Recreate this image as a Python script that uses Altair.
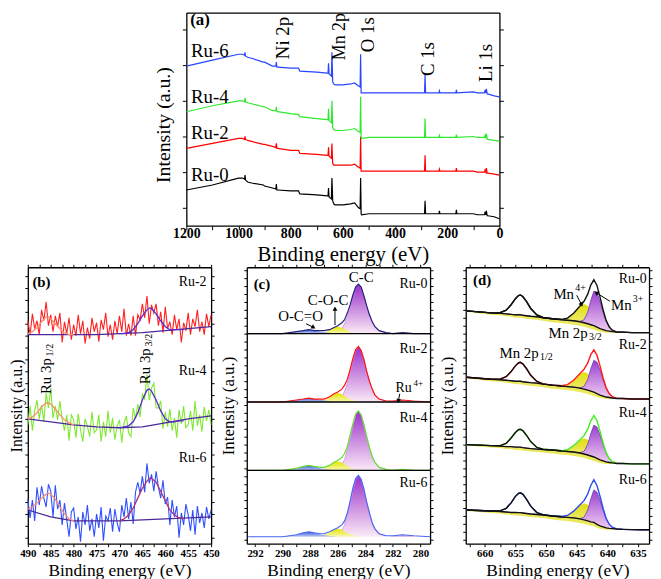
import altair as alt
import pandas as pd

SERIF = "Liberation Serif"

# ===================== (a) XPS survey spectra =====================
a_energy = [1200, 1100, 1000, 985, 977, 975, 973, 965, 950, 905,
            900, 870, 857, 855, 853, 850, 800, 770, 765, 700,
            660, 657, 655, 653, 648, 644, 642, 639, 635, 630,
            600, 570, 555, 540, 534, 532, 530, 528, 500, 400,
            290, 287, 285, 283, 280, 232, 230, 228, 200, 167,
            165, 163, 100, 85, 57, 55, 52, 50, 47, 45,
            20, 0]
a_ru0 = [36, 41, 48, 48, 47, 51, 46, 44, 43, 41,
         40, 38, 37, 42, 36, 36, 35, 35, 32, 31,
         30, 30, 38, 29, 28, 27, 48, 25, 22, 21,
         21, 22, 23, 18, 17, 48, 12, 11, 12, 12,
         12, 12, 25, 12, 12, 12, 15, 12, 12, 12,
         16, 12, 12, 11, 11, 14, 11, 15, 10, 10,
         9, 7]
a_ru2 = [78, 83, 88, 88, 87, 90, 87, 86, 85, 82,
         82, 80, 79, 83, 78, 78, 76, 76, 73, 72,
         71, 71, 79, 70, 69, 68, 83, 63, 61, 61,
         61, 61, 62, 59, 58, 90, 55, 55, 55, 55,
         55, 55, 71, 55, 55, 55, 57, 55, 55, 55,
         58, 55, 55, 54, 54, 56, 54, 58, 53, 53,
         52, 51]
a_ru4 = [115, 121, 126, 126, 125, 129, 125, 124, 123, 120,
         120, 116, 116, 120, 115, 115, 113, 112, 110, 108,
         107, 107, 118, 106, 105, 104, 126, 99, 97, 96,
         96, 97, 98, 95, 94, 130, 89, 88, 89, 89,
         89, 89, 108, 89, 89, 89, 91, 89, 89, 89,
         92, 89, 90, 89, 89, 91, 89, 93, 88, 87,
         86, 85]
a_ru6 = [161, 167, 173, 173, 172, 175, 171, 170, 169, 165,
         165, 161, 161, 165, 160, 160, 159, 159, 156, 155,
         154, 154, 164, 153, 152, 151, 175, 145, 143, 142,
         142, 143, 144, 141, 140, 173, 134, 134, 134, 134,
         134, 134, 152, 134, 134, 134, 136, 134, 134, 134,
         137, 134, 135, 134, 134, 137, 134, 138, 133, 133,
         131, 130]
a_name_text = ["Ru-6", "Ru-4", "Ru-2", "Ru-0"]
a_name_x = [1182, 1182, 1182, 1182]
a_name_y = [176, 130, 93, 51]
a_peak_text = ["Ni 2p", "O 1s", "C 1s", "Li 1s"]
a_peak_x = [828, 505, 273, 53]
a_peak_y = [168, 175, 151, 145]
a_mn_text = ["Mn 2p"]
a_mn_x = [612]
a_mn_y = [167]
a_tick_y = [18, 54, 90, 126, 162, 198]

# ===================== (b) Ru 3p =====================
b_energy = [490 - 0.5 * i for i in range(81)]
b_ru2 = [225, 211, 232, 217, 225, 211, 236, 225, 244, 220,
         231, 214, 230, 219, 233, 203, 224, 212, 228, 206,
         221, 210, 231, 212, 225, 202, 218, 207, 228, 214,
         223, 204, 226, 216, 233, 209, 221, 206, 225, 212,
         230, 214, 237, 210, 222, 210, 230, 210, 231, 226,
         242, 228, 250, 222, 241, 233, 242, 220, 234, 213,
         239, 217, 224, 211, 231, 216, 227, 203, 223, 215,
         233, 211, 227, 219, 236, 214, 224, 211, 232, 219,
         231]
b_ru4 = [120, 139, 114, 134, 145, 126, 140, 123, 152, 137,
         157, 127, 139, 125, 144, 126, 114, 130, 104, 130,
         125, 107, 131, 115, 103, 126, 119, 108, 133, 112,
         115, 130, 103, 123, 108, 134, 112, 127, 105, 119,
         125, 102, 122, 129, 112, 108, 137, 126, 141, 128,
         151, 146, 171, 145, 157, 162, 137, 137, 144, 116,
         133, 118, 136, 114, 127, 107, 135, 121, 139, 117,
         120, 134, 114, 144, 119, 130, 113, 138, 124, 135,
         120]
b_ru6 = [45, 26, 44, 23, 57, 39, 58, 46, 37, 60,
         53, 27, 59, 35, 44, 19, 41, 24, 7, 32,
         36, 15, 27, 2, 32, 19, 39, 13, 25, 7,
         30, 16, 37, 3, 28, 23, 36, 12, 35, 21,
         12, 39, 27, 46, 25, 42, 20, 52, 62, 51,
         68, 52, 81, 61, 70, 53, 73, 57, 46, 64,
         40, 47, 19, 44, 27, 38, 6, 31, 19, 40,
         29, 13, 34, 9, 38, 21, 31, 16, 37, 25,
         34]
b_p12_e = [490, 489, 488, 487, 486, 485.5, 485, 484, 483, 482, 481, 480]
b_p12_ru2 = [212, 214, 218, 224, 229, 229, 227, 222, 217, 213, 211, 211]
b_p12_ru4 = [126, 128, 132, 138, 142, 142, 141, 136, 130, 125, 122, 120]
b_p12_ru6 = [35, 37, 41, 46, 50, 51, 50, 45, 37, 30, 25, 23]
b_p32_e = [470, 469, 468, 467, 466, 465, 464, 463.5, 463, 462, 461, 460, 459, 458, 457, 456]
b_p32_ru2 = [212, 212, 213, 216, 222, 230, 236, 238, 237, 232, 225, 219, 216, 216, 216, 216]
b_p32_ru4 = [117, 118, 119, 123, 132, 145, 155, 156, 154, 145, 134, 126, 123, 123, 124, 124]
b_p32_ru6 = [23, 25, 29, 36, 46, 56, 63, 66, 66, 62, 53, 43, 34, 29, 26, 25]
b_bg_e = [490, 485, 480, 475, 470, 465, 460, 455, 450]
b_bg_ru2 = [211, 211, 211, 211, 212, 213, 215, 217, 219]
b_bg_ru4 = [126, 123, 120, 118, 117, 118, 122, 126, 129]
b_bg_ru6 = [34, 27, 23, 23, 23, 24, 25, 26, 27]
b_name_text = ["Ru-2", "Ru-4", "Ru-6"]
b_name_y = [264, 174, 86]

# ===================== (c) C 1s =====================
c_base = [212, 143, 74, 7]
c_cc_e = [286.5, 286, 285.7, 285.5, 285.3, 285.1, 284.9, 284.7, 284.5, 284.3,
          284.1, 283.9, 283.7, 283.5, 283.3, 283, 282.5]
c_cc = [[212, 213, 217, 222, 229, 240, 250, 259, 262, 259, 250, 240, 231, 224, 219, 215, 213],
        [143, 144, 148, 154, 162, 174, 186, 195, 199, 195, 186, 174, 164, 156, 150, 146, 144],
        [74, 75, 80, 85, 95, 107, 120, 130, 134, 130, 120, 108, 97, 88, 82, 77, 75],
        [7, 8, 13, 19, 29, 41, 55, 65, 69, 65, 55, 42, 31, 21, 15, 10, 8]]
c_coc_e = [287.5, 287, 286.6, 286.3, 286, 285.7, 285.4, 285, 284.5]
c_coc = [[212, 213, 216, 218, 219, 218, 216, 213, 212],
         [143, 145, 148, 151, 152, 151, 148, 145, 143],
         [74, 76, 79, 82, 83, 82, 79, 76, 74],
         [7, 9, 11, 14, 15, 14, 11, 9, 7]]
c_oco_e = [290, 289.5, 289, 288.5, 288.1, 287.7, 287.2, 286.7, 286.2]
c_oco = [[212, 213, 214, 215, 216, 215, 214, 213, 212],
         [143, 144, 145, 146, 147, 146, 145, 144, 143],
         [74, 75, 76, 78, 79, 78, 76, 75, 74],
         [7, 8, 9, 11, 12, 11, 9, 8, 7]]
c_r4_e = [282.3, 281.8, 281.3, 280.8, 280.3]
c_r4 = [[212, 213, 213, 213, 212],
        [143, 144, 145, 144, 143],
        [74, 75, 75, 75, 74],
        [7, 8, 9, 8, 7]]
c_env_e = [292.5, 291, 290, 289.5, 289, 288.5, 288.1, 287.7, 287.2, 287,
           286.6, 286.3, 286, 285.7, 285.5, 285.3, 285.1, 284.9, 284.7, 284.5,
           284.3, 284.1, 283.9, 283.7, 283.5, 283.3, 283, 282.5, 282, 281.3,
           280.5, 279.3]
c_env = [[212, 212, 212, 213, 214, 215, 216, 215, 215, 215, 216, 218, 220, 223, 226, 233,
          241, 251, 259, 262, 259, 250, 240, 231, 224, 219, 215, 213, 212, 213, 212, 212],
         [143, 143, 143, 144, 145, 146, 147, 146, 146, 146, 148, 151, 153, 156, 160, 166,
          176, 187, 196, 199, 195, 186, 174, 164, 156, 150, 146, 144, 144, 145, 144, 143],
         [74, 74, 74, 75, 76, 78, 79, 78, 77, 77, 79, 82, 84, 87, 91, 98,
          110, 121, 131, 134, 130, 120, 108, 97, 88, 82, 77, 75, 74, 75, 74, 74],
         [7, 7, 7, 8, 9, 11, 12, 11, 10, 10, 12, 14, 16, 19, 23, 31,
          43, 56, 66, 69, 65, 55, 42, 31, 21, 15, 10, 8, 8, 9, 8, 7]]
c_name_text = ["Ru-0", "Ru-2", "Ru-4", "Ru-6"]
c_name_y = [262, 196, 127, 61]
c_peak_text = ["C-C", "C-O-C", "O-C=O"]
c_peak_x = [284.3, 286.7, 288.7]
c_peak_y = [269, 246, 230]

# ===================== (d) Mn 2p =====================
d_energy = [663, 661, 659, 657.5, 656.5, 655.7, 655, 654.5, 654.2, 653.8,
            653.2, 652.5, 651.5, 650.5, 649, 647.5, 646.5, 645.5, 644.5, 643.8,
            643.2, 642.7, 642.2, 641.7, 641.2, 640.7, 640.2, 639.7, 639.2, 638.5,
            637.5, 636, 634.5, 633.2]
d_bg = [[235, 234, 233, 232.5, 232, 231.5, 231, 231, 231, 230.5,
         230, 229.5, 229, 228, 227, 226, 225.5, 225, 224, 223,
         222, 221, 220, 218.5, 217, 216, 215, 214.5, 214, 213.5,
         213.5, 213, 213, 213],
        [168, 167, 166, 165.5, 165, 164.5, 164, 164, 164, 163.5,
         163, 162.5, 162, 161, 160, 159, 158.5, 158, 157, 156,
         155, 154, 153, 151.5, 150, 149, 148, 147.5, 147, 146.5,
         146.5, 146, 146, 146],
        [100, 99.5, 99, 98.5, 98, 98, 97.5, 97.5, 97.5, 97,
         96.5, 96, 95.5, 95, 94.5, 93.5, 93, 92.5, 91.5, 90.5,
         89.5, 88.5, 87.5, 86, 84.5, 83.5, 82.5, 82, 81.5, 81,
         81, 80.5, 80.5, 80.5],
        [34, 33.5, 33, 32.5, 32, 31.5, 31.5, 31.3, 31.3, 31,
         30.5, 30, 29.5, 29, 28, 27, 26.5, 26, 25, 24,
         23, 22, 21.5, 19.5, 18, 17, 16, 15.5, 15.2, 14.8,
         14.5, 14.2, 14, 14]]
d_p12 = [[0, 0, 0, 0.6, 3.7, 9.7, 16.3, 19.4, 20, 19, 14.5, 7.9, 1.9, 0.3, 0, 0, 0,
          0, 0, 0, 0, 0, 0, 0, 0, 0, 0, 0, 0, 0, 0, 0, 0, 0],
         [0, 0, 0, 0.6, 3.5, 9.2, 15.5, 18.4, 19, 18, 13.8, 7.5, 1.8, 0.3, 0, 0, 0,
          0, 0, 0, 0, 0, 0, 0, 0, 0, 0, 0, 0, 0, 0, 0, 0, 0],
         [0, 0, 0, 0.5, 3.3, 8.7, 14.7, 17.5, 18, 17.1, 13, 7.1, 1.7, 0.3, 0, 0, 0,
          0, 0, 0, 0, 0, 0, 0, 0, 0, 0, 0, 0, 0, 0, 0, 0, 0],
         [0, 0, 0, 0.6, 3.7, 9.7, 16.3, 19.4, 20, 19, 14.5, 7.9, 1.9, 0.3, 0, 0, 0,
          0, 0, 0, 0, 0, 0, 0, 0, 0, 0, 0, 0, 0, 0, 0, 0, 0]]
d_mn4 = [[0, 0, 0, 0, 0, 0, 0, 0, 0, 0, 0, 0, 0, 0,
          0, 0.4, 2.2, 7.6, 15.4, 18.8, 18.2, 15.4, 11.5, 7.6, 4.4, 2.2, 1.0, 0.4, 0.1,
          0, 0, 0, 0, 0],
         [0, 0, 0, 0, 0, 0, 0, 0, 0, 0, 0, 0, 0, 0,
          0, 0.4, 2.0, 7.0, 14.2, 17.3, 16.7, 14.2, 10.6, 7.0, 4.0, 2.0, 0.9, 0.4, 0.1,
          0, 0, 0, 0, 0],
         [0, 0, 0, 0, 0, 0, 0, 0, 0, 0, 0, 0, 0, 0,
          0, 0.3, 1.8, 6.4, 12.9, 15.8, 15.3, 12.9, 9.7, 6.4, 3.7, 1.8, 0.8, 0.3, 0.1,
          0, 0, 0, 0, 0],
         [0, 0, 0, 0, 0, 0, 0, 0, 0, 0, 0, 0, 0, 0,
          0, 0.4, 2.0, 6.8, 13.7, 16.7, 16.2, 13.7, 10.2, 6.8, 3.9, 2.0, 0.9, 0.4, 0.1,
          0, 0, 0, 0, 0]]
d_mn3 = [[0, 0, 0, 0, 0, 0, 0, 0, 0, 0, 0, 0, 0, 0, 0, 0, 0, 0,
          0.3, 2.9, 11.7, 24.6, 34.9, 34.6, 27.7, 17.9, 9.4, 4.0, 1.4, 0.2,
          0, 0, 0, 0],
         [0, 0, 0, 0, 0, 0, 0, 0, 0, 0, 0, 0, 0, 0, 0, 0, 0, 0,
          0.3, 2.7, 10.8, 22.6, 32.1, 31.8, 25.5, 16.5, 8.6, 3.7, 1.3, 0.2,
          0, 0, 0, 0],
         [0, 0, 0, 0, 0, 0, 0, 0, 0, 0, 0, 0, 0, 0, 0, 0, 0, 0,
          0.3, 2.7, 10.8, 22.6, 32.1, 31.8, 25.5, 16.5, 8.6, 3.7, 1.3, 0.2,
          0, 0, 0, 0],
         [0, 0, 0, 0, 0, 0, 0, 0, 0, 0, 0, 0, 0, 0, 0, 0, 0, 0,
          0.3, 2.7, 11.0, 23.1, 32.8, 32.5, 26.0, 16.8, 8.8, 3.8, 1.3, 0.2,
          0, 0, 0, 0]]
d_yband = [1, 1.5, 2, 2, 2.5, 2.5, 3, 3, 3, 3, 3, 3, 3, 3, 3.5, 3.5, 3.5, 4, 4, 4,
           4, 4, 4, 3.5, 3, 2.5, 2, 1.5, 1, 0.5, 0, 0, 0, 0]
d_name_text = ["Ru-0", "Ru-2", "Ru-4", "Ru-6"]
d_name_y = [267, 201, 132, 64]

# ===================== helpers =====================
def vgrad(top, bottom):
    return alt.Gradient(gradient="linear",
                        stops=[alt.GradientStop(color=top, offset=0),
                               alt.GradientStop(color=bottom, offset=1)],
                        x1=0, x2=0, y1=0, y2=1)


def frame_df(x, y, y2=None):
    d = {"x": list(x), "y": list(y)}
    if y2 is not None:
        d["y2"] = list(y2)
    return pd.DataFrame(d)


class Panel:
    def __init__(self, xdom, ydom, xrange=None):
        if xrange is None:
            self.xs = alt.Scale(domain=xdom, nice=False, zero=False)
        else:
            self.xs = alt.Scale(domain=xdom, range=xrange, nice=False, zero=False)
        self.ys = alt.Scale(domain=ydom, nice=False, zero=False)
        self.mid = ((xdom[0] + xdom[1]) / 2.0, (ydom[0] + ydom[1]) / 2.0)
        self.layers = []

    def X(self, field="x", axis=None):
        return alt.X(f"{field}:Q", scale=self.xs, axis=axis)

    def Y(self, field="y", axis=None):
        return alt.Y(f"{field}:Q", scale=self.ys, axis=axis)

    def line(self, x, y, color, width=1.2, opacity=1.0):
        self.layers.append(alt.Chart(frame_df(x, y)).mark_line(
            color=color, strokeWidth=width, opacity=opacity).encode(x=self.X(), y=self.Y()))

    def area(self, x, y, y2, fill, opacity=1.0):
        self.layers.append(alt.Chart(frame_df(x, y, y2)).mark_area(
            color=fill, opacity=opacity).encode(x=self.X(), y=self.Y(), y2="y2:Q"))

    def text(self, x, y, t, **kw):
        df = pd.DataFrame({"x": list(x), "y": list(y), "t": list(t)})
        self.layers.append(alt.Chart(df).mark_text(font=SERIF, color="black", **kw).encode(
            x=self.X(), y=self.Y(), text="t:N"))

    def hrule(self, ys, width=1.3):
        df = pd.DataFrame({"y": list(ys)})
        self.layers.append(alt.Chart(df).mark_rule(color="black", strokeWidth=width).encode(y=self.Y()))

    def arrow(self, x1, y1, x2, y2, angle):
        df = pd.DataFrame({"x": [x1], "y": [y1], "x2": [x2], "y2": [y2]})
        self.layers.append(alt.Chart(df).mark_rule(color="black", strokeWidth=1).encode(
            x=self.X(), y=self.Y(), x2="x2:Q", y2="y2:Q"))
        self.layers.append(alt.Chart(df).mark_point(
            shape="triangle-up", filled=True, color="black", opacity=1, size=24, angle=angle).encode(
            x=self.X("x2"), y=self.Y("y2")))

    def build(self, width, height, bottom, left, top, right):
        df = pd.DataFrame({"x": [self.mid[0]], "y": [self.mid[1]]})
        ax = alt.Chart(df).mark_point(opacity=0, size=1).encode(
            x=self.X(axis=bottom), y=self.Y(axis=left))
        fr = alt.Chart(df).mark_point(opacity=0, size=1).encode(
            x=self.X(axis=top), y=self.Y(axis=right))
        return alt.layer(ax, fr, *self.layers).resolve_axis(
            x="independent", y="independent").properties(width=width, height=height)


def x_bottom(values, expr, lsize, tsize, tick, lpad, tpad):
    return alt.Axis(orient="bottom", values=values, labelExpr=expr, format="d",
                    tickSize=tick, labelFont=SERIF, labelFontSize=lsize, labelFontWeight="bold",
                    labelPadding=lpad, labelFlush=False, labelOverlap=False,
                    title="Binding energy (eV)", titleFont=SERIF, titleFontSize=tsize,
                    titleFontWeight="normal", titlePadding=tpad)


def y_left(values, tsize, tick, tpad, **kw):
    return alt.Axis(orient="left", values=values, labels=False, tickSize=tick,
                    title="Intensity (a.u.)", titleFont=SERIF, titleFontSize=tsize,
                    titleFontWeight="normal", titlePadding=tpad, **kw)


def y_right(values, tick):
    return alt.Axis(orient="right", values=values, labels=False, tickSize=tick, title=None)


def x_top(values, tick):
    return alt.Axis(orient="top", values=values, labels=False, tickSize=tick, title=None)


# ===================== panel (a) =====================
pa = Panel([1200, 0], [0, 215], xrange=[160, 476])
for ys, col in [(a_ru0, "#000000"), (a_ru2, "#ff0000"), (a_ru4, "#2ee82e"), (a_ru6, "#2846ff")]:
    pa.line(a_energy, ys, col, width=1.2)
pa.text(a_name_x, a_name_y, a_name_text, align="left", baseline="middle", fontSize=19)
pa.text([1185], [208], ["(a)"], align="left", baseline="middle", fontSize=17, fontWeight="bold")
pa.text(a_peak_x, a_peak_y, a_peak_text, align="left", baseline="middle", fontSize=19,
        angle=270, clip=True)
pa.text(a_mn_x, a_mn_y, a_mn_text, align="left", baseline="middle", fontSize=18,
        angle=270, clip=True)
chart_a = pa.build(
    476, 215,
    x_bottom(list(range(0, 1201, 100)), "datum.value % 200 == 0 ? datum.label : ''", 14, 21, 4, -3, 3),
    y_left(a_tick_y, 20, 4, 8, offset=-160, titleY=113),
    alt.Axis(orient="top", ticks=False, labels=False, title=None),
    y_right(a_tick_y, 4))

# ===================== panel (b) =====================
b_xvals = [450 + 2.5 * k for k in range(17)]
b_yvals = [6 + 12 * k for k in range(23)]
pb = Panel([490, 450], [0, 279])
for data, bg, p12, p32, col, c32 in [
        (b_ru2, b_bg_ru2, b_p12_ru2, b_p32_ru2, "#ff2020", "#5a2ad0"),
        (b_ru4, b_bg_ru4, b_p12_ru4, b_p32_ru4, "#7fe830", "#5a2ad0"),
        (b_ru6, b_bg_ru6, b_p12_ru6, b_p32_ru6, "#2f4fff", "#b03070")]:
    pb.line(b_energy, data, col, width=1.1)
    pb.line(b_bg_e, bg, "#4a2a9a", width=1.3)
    pb.line(b_p12_e, p12, "#ff8c70", width=1.3)
    pb.line(b_p32_e, p32, c32, width=1.3)
pb.text([489], [264], ["(b)"], align="left", baseline="middle", fontSize=15, fontWeight="bold")
pb.text([451, 451, 451], b_name_y, b_name_text, align="right", baseline="middle", fontSize=14)
for x, y, sub in [(486, 151, "1/2"), (464.4, 161, "3/2")]:
    pb.text([x], [y], ["Ru 3p"], align="left", baseline="middle", fontSize=15, angle=270)
    pb.text([x], [y], [sub], align="left", baseline="middle", fontSize=10, angle=270, dx=38, dy=4)
chart_b = pb.build(
    185, 279,
    x_bottom(b_xvals, "datum.value % 5 == 0 ? datum.label : ''", 11, 17.5, 3, 1, 3),
    y_left(b_yvals, 16, 3, 0),
    x_top(b_xvals, 3),
    y_right(b_yvals, 3))

# ===================== panel (c) =====================
c_xvals = list(range(280, 293))
cd_yvals = [4 + 8 * k for k in range(35)]
pc = Panel([292.6, 279.3], [0, 279])
env_cols = ["#23237a", "#ff1010", "#66dd33", "#4a66ee"]
for k in range(4):
    B = c_base[k]
    pc.area(c_cc_e, c_cc[k], [B] * len(c_cc_e), vgrad("#9a2fc9", "#fbeaf7"))
    pc.line(c_cc_e, c_cc[k], "#dd99ee", width=1.0)
    pc.area(c_coc_e, c_coc[k], [B] * len(c_coc_e), vgrad("#e4e400", "#f8f8b8"))
    pc.area(c_oco_e, c_oco[k], [B] * len(c_oco_e), vgrad("#3f5fe0", "#c0caf2"))
    pc.area(c_r4_e, c_r4[k], [B] * len(c_r4_e), "#b070d0", opacity=0.6)
    pc.line(c_env_e, c_env[k], env_cols[k], width=1.2)
pc.hrule(c_base[:3], width=1.3)
pc.text([292.1], [262], ["(c)"], align="left", baseline="middle", fontSize=15, fontWeight="bold")
pc.text([279.5] * 4, c_name_y, c_name_text, align="right", baseline="middle", fontSize=14)
pc.text(c_peak_x, c_peak_y, c_peak_text, align="center", baseline="middle", fontSize=15)
pc.text([281.8], [157], ["Ru"], align="left", baseline="middle", fontSize=14)
pc.text([281.8], [157], ["4+"], align="left", baseline="middle", fontSize=9, dx=18, dy=-5)
pc.arrow(286.2, 220.7, 286.2, 237.3, 0)
pc.arrow(288.3, 222, 287.75, 218.3, 120)
pc.arrow(281.5, 151.3, 281.6, 144, 192)
chart_c = pc.build(
    185, 279,
    x_bottom(c_xvals, "datum.value % 2 == 0 ? datum.label : ''", 11, 17.5, 3, 1, 3),
    y_left(cd_yvals, 17, 3, 6),
    x_top(c_xvals, 3),
    y_right(cd_yvals, 3))

# ===================== panel (d) =====================
d_xvals = [635 + 2.5 * k for k in range(12)]
pd_ = Panel([663.1, 633.2], [0, 279])
d_cols = ["#111111", "#ff1a1a", "#44ee22", "#2a4cf0"]
for k in range(4):
    bg = d_bg[k]
    low = [b - o for b, o in zip(bg, d_yband)]
    top4 = [b + m for b, m in zip(bg, d_mn4[k])]
    top3 = [b + m for b, m in zip(bg, d_mn3[k])]
    env = [b + p + m4 + m3 for b, p, m4, m3 in zip(bg, d_p12[k], d_mn4[k], d_mn3[k])]
    pd_.area(d_energy, bg, low, "#e8e440", opacity=0.85)
    pd_.area(d_energy, top4, bg, vgrad("#e2de10", "#f4f2a0"))
    pd_.area(d_energy, top3, bg, vgrad("#9b3fd0", "#f2d2f2"))
    pd_.line(d_energy, top3, "#6a3ab0", width=0.8)
    pd_.line(d_energy, env, d_cols[k], width=1.4)
    pd_.line(d_energy[:16], env[:16], "#111111", width=1.4)
    pd_.line(d_energy, bg, "#111111", width=1.4)
pd_.text([661.9], [266], ["(d)"], align="left", baseline="middle", fontSize=15, fontWeight="bold")
pd_.text([633.6] * 4, d_name_y, d_name_text, align="right", baseline="middle", fontSize=14)
for x, y, main, sup, dx, dy in [(649.6, 213, "Mn 2p", "3/2", 41, 4),
                                (657.6, 192, "Mn 2p", "1/2", 41, 4),
                                (648.8, 252, "Mn", "4+", 22, -6),
                                (639.4, 241, "Mn", "3+", 22, -6)]:
    pd_.text([x], [y], [main], align="left", baseline="middle", fontSize=15)
    pd_.text([x], [y], [sup], align="left", baseline="middle", fontSize=10, dx=dx, dy=dy)
pd_.arrow(645.0, 250.7, 644.2, 241.3, 152)
pd_.arrow(639.6, 244.7, 641.8, 253.3, 303)
chart_d = pd_.build(
    185, 279,
    x_bottom(d_xvals, "datum.value % 5 == 0 ? datum.label : ''", 11, 17.5, 3, 1, 3),
    y_left(cd_yvals, 17, 3, 6),
    x_top(d_xvals, 3),
    y_right(cd_yvals, 3))

bottom = alt.hconcat(chart_b, chart_c, chart_d, spacing=36, bounds="flush")
chart = alt.vconcat(chart_a, bottom, spacing=42, bounds="flush", padding=0).configure_axis(
    grid=False, domainColor="black", tickColor="black", labelColor="black", titleColor="black",
    domainWidth=1.3, tickWidth=1
).configure_view(stroke=None)

chart.save("out.html", embed_options={"renderer": "svg", "actions": False})
